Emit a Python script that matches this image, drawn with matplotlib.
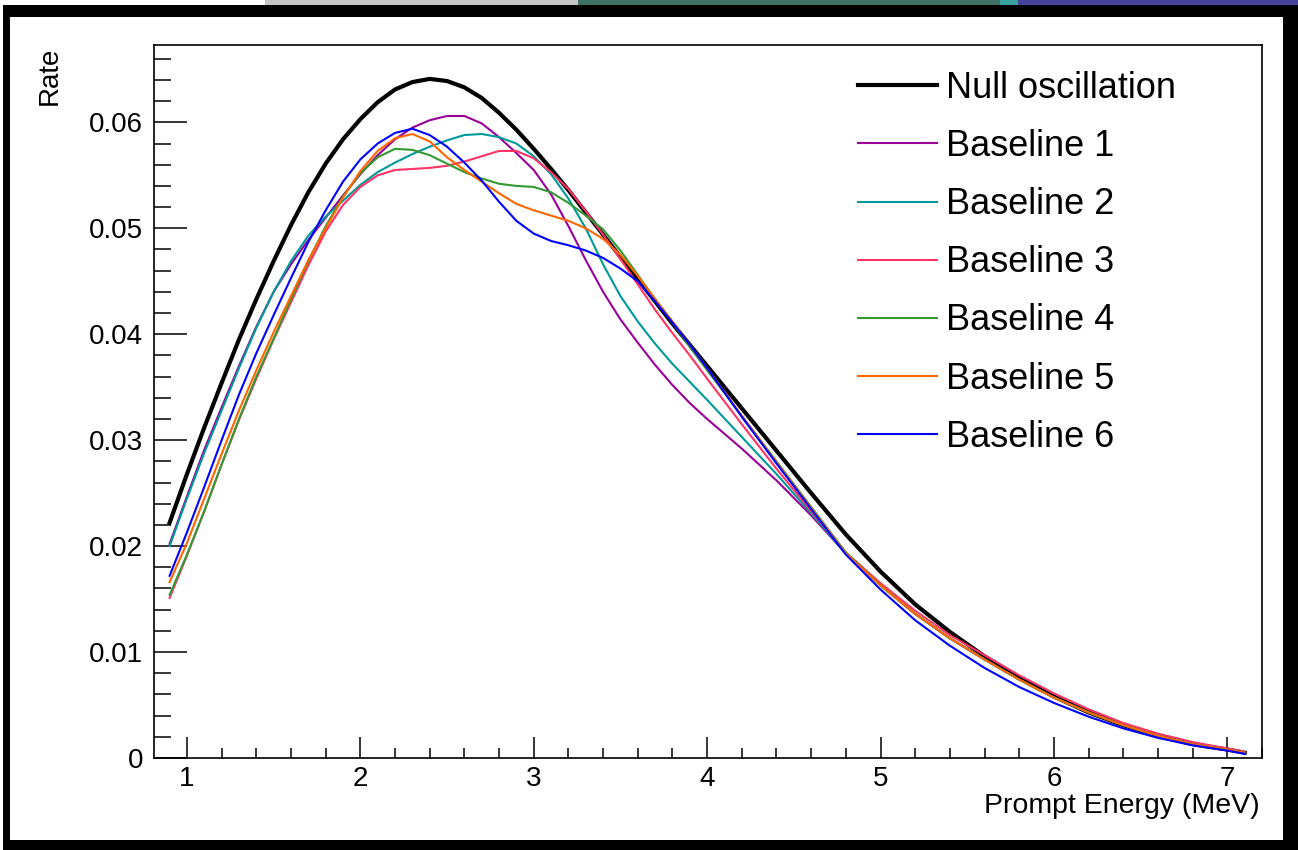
import numpy as np
import matplotlib
matplotlib.use("Agg")
import matplotlib.pyplot as plt
from matplotlib.patches import Rectangle
from matplotlib.ticker import MultipleLocator

plt.rcParams['font.family'] = ['Liberation Sans', 'DejaVu Sans']

# prompt energy grid (MeV)
energy = [0.9, 1.0, 1.1, 1.2, 1.3, 1.4, 1.5, 1.6, 1.7, 1.8, 1.9, 2.0, 2.1, 2.2, 2.3, 2.4,
          2.5, 2.6, 2.7, 2.8, 2.9, 3.0, 3.1, 3.2, 3.3, 3.4, 3.5, 3.6, 3.7, 3.8, 3.9, 4.0,
          4.2, 4.4, 4.6, 4.8, 5.0, 5.2, 5.4, 5.6, 5.8, 6.0, 6.2, 6.4, 6.6, 6.8, 7.0, 7.1]

null_osc = [0.0222, 0.0268, 0.0312, 0.0354, 0.0395, 0.0433, 0.0469, 0.0503, 0.0534, 0.0561,
            0.0584, 0.0603, 0.0619, 0.0631, 0.0638, 0.0641, 0.0639, 0.0633, 0.0623, 0.0609,
            0.0593, 0.0575, 0.0556, 0.0536, 0.0515, 0.0494, 0.0473, 0.0452, 0.0431, 0.0410,
            0.0390, 0.0370, 0.0330, 0.0290, 0.0250, 0.0211, 0.0176, 0.0145, 0.0119, 0.0096,
            0.0076, 0.0058, 0.0043, 0.0031, 0.0021, 0.0013, 0.0008, 0.0005]

baseline1 = [0.0202, 0.0247, 0.0291, 0.0331, 0.0370, 0.0407, 0.0440, 0.0466, 0.0489, 0.0510,
             0.0531, 0.0551, 0.0569, 0.0584, 0.0595, 0.0602, 0.0606, 0.0606, 0.0599, 0.0586,
             0.0571, 0.0555, 0.0532, 0.0502, 0.0470, 0.0440, 0.0414, 0.0392, 0.0371, 0.0352,
             0.0335, 0.0320, 0.0292, 0.0262, 0.0229, 0.0193, 0.0163, 0.0136, 0.0113, 0.0093,
             0.0074, 0.0057, 0.0043, 0.0031, 0.0021, 0.0013, 0.0008, 0.0005]

baseline2 = [0.0200, 0.0245, 0.0288, 0.0328, 0.0368, 0.0406, 0.0440, 0.0469, 0.0493, 0.0511,
             0.0526, 0.0541, 0.0553, 0.0562, 0.0570, 0.0577, 0.0583, 0.0588, 0.0589, 0.0586,
             0.0580, 0.0568, 0.0551, 0.0528, 0.0500, 0.0466, 0.0436, 0.0412, 0.0391, 0.0372,
             0.0355, 0.0338, 0.0303, 0.0268, 0.0231, 0.0193, 0.0163, 0.0136, 0.0113, 0.0093,
             0.0074, 0.0057, 0.0043, 0.0031, 0.0021, 0.0013, 0.0008, 0.0005]

baseline3 = [0.0151, 0.0191, 0.0233, 0.0277, 0.0319, 0.0358, 0.0395, 0.0430, 0.0465, 0.0497,
             0.0522, 0.0539, 0.0550, 0.0555, 0.0556, 0.0557, 0.0559, 0.0563, 0.0568, 0.0573,
             0.0573, 0.0566, 0.0553, 0.0537, 0.0516, 0.0494, 0.0471, 0.0447, 0.0423, 0.0401,
             0.0380, 0.0358, 0.0315, 0.0273, 0.0233, 0.0194, 0.0165, 0.0139, 0.0116, 0.0097,
             0.0078, 0.0061, 0.0046, 0.0033, 0.0023, 0.0015, 0.0009, 0.0006]

baseline4 = [0.0154, 0.0192, 0.0233, 0.0277, 0.0320, 0.0360, 0.0396, 0.0433, 0.0469, 0.0502,
             0.0530, 0.0552, 0.0567, 0.0575, 0.0574, 0.0569, 0.0561, 0.0553, 0.0547, 0.0542,
             0.0540, 0.0539, 0.0534, 0.0524, 0.0512, 0.0499, 0.0479, 0.0456, 0.0433, 0.0411,
             0.0388, 0.0366, 0.0323, 0.0280, 0.0237, 0.0194, 0.0163, 0.0136, 0.0113, 0.0093,
             0.0074, 0.0057, 0.0043, 0.0031, 0.0021, 0.0013, 0.0008, 0.0005]

baseline5 = [0.0166, 0.0203, 0.0245, 0.0287, 0.0328, 0.0366, 0.0402, 0.0436, 0.0470, 0.0500,
             0.0529, 0.0554, 0.0573, 0.0585, 0.0589, 0.0582, 0.0567, 0.0555, 0.0544, 0.0533,
             0.0523, 0.0517, 0.0512, 0.0507, 0.0500, 0.0490, 0.0475, 0.0455, 0.0433, 0.0412,
             0.0390, 0.0368, 0.0323, 0.0279, 0.0236, 0.0193, 0.0163, 0.0136, 0.0113, 0.0093,
             0.0074, 0.0057, 0.0043, 0.0031, 0.0021, 0.0013, 0.0008, 0.0005]

baseline6 = [0.0172, 0.0213, 0.0256, 0.0300, 0.0343, 0.0382, 0.0418, 0.0453, 0.0487, 0.0517,
             0.0544, 0.0565, 0.0580, 0.0590, 0.0594, 0.0588, 0.0577, 0.0562, 0.0545, 0.0525,
             0.0507, 0.0495, 0.0488, 0.0484, 0.0479, 0.0472, 0.0462, 0.0450, 0.0431, 0.0411,
             0.0390, 0.0368, 0.0322, 0.0278, 0.0235, 0.0192, 0.0159, 0.0130, 0.0106, 0.0085,
             0.0067, 0.0052, 0.0039, 0.0028, 0.0019, 0.0012, 0.0007, 0.0004]

labels = ["Null oscillation", "Baseline 1", "Baseline 2", "Baseline 3",
          "Baseline 4", "Baseline 5", "Baseline 6"]
series = [null_osc, baseline1, baseline2, baseline3, baseline4, baseline5, baseline6]
colors = ["black", "#990099", "#009999", "#ff3366", "#339933", "#ff6600", "#0000ff"]
widths = [3.0, 1.5, 1.5, 1.5, 1.5, 1.5, 1.5]

W, H = 1298, 850
fig = plt.figure(figsize=(W / 100, H / 100), dpi=100, facecolor="white")

# window frame around the canvas
def px_rect(x0, y0, x1, y1, color):
    fig.patches.append(Rectangle((x0 / W, 1 - y1 / H), (x1 - x0) / W, (y1 - y0) / H,
                                 transform=fig.transFigure, color=color, lw=0, zorder=-5))

px_rect(265, 0, 578, 5, "#c4c4c4")
px_rect(578, 0, 1000, 5, "#3f7264")
px_rect(1000, 0, 1018, 5, "#3aa0a0")
px_rect(1018, 0, W, 5, "#45459a")
px_rect(3, 5, W, 17, "black")
px_rect(3, 5, 10, H, "black")
px_rect(1283, 5, W, H, "black")
px_rect(3, 840, W, H, "black")

ax = fig.add_axes([154 / W, 1 - 758 / H, (1262 - 154) / W, (758 - 45) / H])
for y, lab, c, lw in zip(series, labels, colors, widths):
    ax.plot(energy, y, color=c, lw=lw, label=lab)

ax.set_xlim(0.81, 7.2)
ax.set_ylim(0, 0.0673)
ax.xaxis.set_major_locator(MultipleLocator(1))
ax.xaxis.set_minor_locator(MultipleLocator(0.2))
ax.yaxis.set_major_locator(MultipleLocator(0.01))
ax.yaxis.set_minor_locator(MultipleLocator(0.002))
ax.yaxis.set_major_formatter(plt.FuncFormatter(lambda v, p: "0" if v == 0 else "%g" % round(v, 3)))
ax.tick_params(axis="both", which="both", direction="in", top=False, right=False,
               width=1.1, labelsize=20)
ax.tick_params(axis="y", which="major", length=24, pad=8)
ax.tick_params(axis="y", which="minor", length=12)
ax.tick_params(axis="x", which="major", length=15, pad=6)
ax.tick_params(axis="x", which="minor", length=7.5)
for s in ax.spines.values():
    s.set_linewidth(1.2)

fig.text(50 / W, 1 - 47 / H, "Rate", rotation=90, ha="center", va="top", fontsize=20)
fig.text(1260 / W, 1 - 806 / H, "Prompt Energy (MeV)", ha="right", va="center", fontsize=20.5)

ax.legend(loc="upper left", bbox_to_anchor=(858 / W, 1 - 71 / H), bbox_transform=fig.transFigure,
          frameon=False, fontsize=26, handlelength=2.18, handletextpad=0.25,
          labelspacing=0.64, borderpad=0, borderaxespad=0)

fig.savefig("out.png", dpi=100)
